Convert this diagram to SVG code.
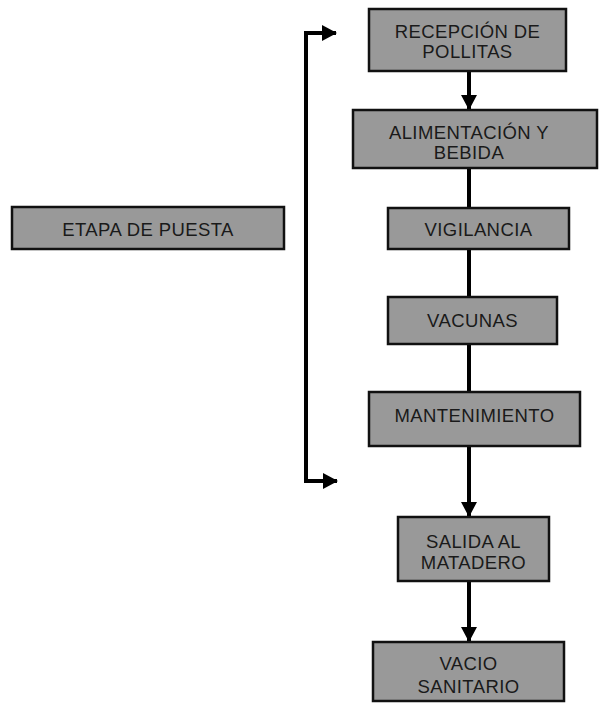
<svg xmlns="http://www.w3.org/2000/svg" width="600" height="704" viewBox="0 0 600 704">
<style>
.box{fill:#999999;stroke:#111111;stroke-width:2.5}
.t{font-family:"Liberation Sans",Arial,sans-serif;font-size:18.5px;letter-spacing:0.4px;fill:#1a1a1a;text-anchor:middle}
.ln{fill:none;stroke:#000000;stroke-width:4}
</style>
<defs>
<marker id="ah" markerUnits="userSpaceOnUse" markerWidth="18" markerHeight="16" refX="14" refY="8" orient="auto">
<path d="M0,0 L15,8 L0,16 Z" fill="#000000"/>
</marker>
<marker id="ahs" markerUnits="userSpaceOnUse" markerWidth="18" markerHeight="16" refX="1" refY="8" orient="auto">
<path d="M15,0 L0,8 L15,16 Z" fill="#000000"/>
</marker>
</defs>
<rect width="600" height="704" fill="#ffffff"/>
<g id="connectors">
<line class="ln" x1="469" y1="71" x2="469" y2="109" marker-end="url(#ah)"/>
<line class="ln" x1="469" y1="168" x2="469" y2="208"/>
<line class="ln" x1="469" y1="249" x2="469" y2="297"/>
<line class="ln" x1="469" y1="344" x2="469" y2="392"/>
<line class="ln" x1="469" y1="446" x2="469" y2="516" marker-end="url(#ah)"/>
<line class="ln" x1="469" y1="581" x2="469" y2="641" marker-end="url(#ah)"/>
<path class="ln" d="M336,33 H306 V481 H337" marker-start="url(#ahs)" marker-end="url(#ah)"/>
</g>
<g id="etapa">
<rect class="box" x="12" y="207" width="272" height="42"/>
<text class="t" x="148" y="236">ETAPA DE PUESTA</text>
</g>
<g id="recepcion">
<rect class="box" x="369" y="9" width="197" height="62"/>
<text class="t" x="467.5" y="38">RECEPCIÓN DE</text>
<text class="t" x="467.5" y="58">POLLITAS</text>
</g>
<g id="alimentacion">
<rect class="box" x="353" y="110" width="244" height="58"/>
<text class="t" x="469" y="139">ALIMENTACIÓN Y</text>
<text class="t" x="469" y="159">BEBIDA</text>
</g>
<g id="vigilancia">
<rect class="box" x="388" y="208" width="181" height="41"/>
<text class="t" x="478.5" y="236">VIGILANCIA</text>
</g>
<g id="vacunas">
<rect class="box" x="388" y="297" width="169" height="47"/>
<text class="t" x="472.5" y="327">VACUNAS</text>
</g>
<g id="mantenimiento">
<rect class="box" x="369" y="392" width="211" height="54"/>
<text class="t" x="474.5" y="422">MANTENIMIENTO</text>
</g>
<g id="salida">
<rect class="box" x="398" y="517" width="151" height="64"/>
<text class="t" x="473.5" y="548">SALIDA AL</text>
<text class="t" x="473.5" y="569">MATADERO</text>
</g>
<g id="vacio">
<rect class="box" x="373" y="642" width="191" height="59"/>
<text class="t" x="468.5" y="670">VACIO</text>
<text class="t" x="468.5" y="693">SANITARIO</text>
</g>
</svg>
